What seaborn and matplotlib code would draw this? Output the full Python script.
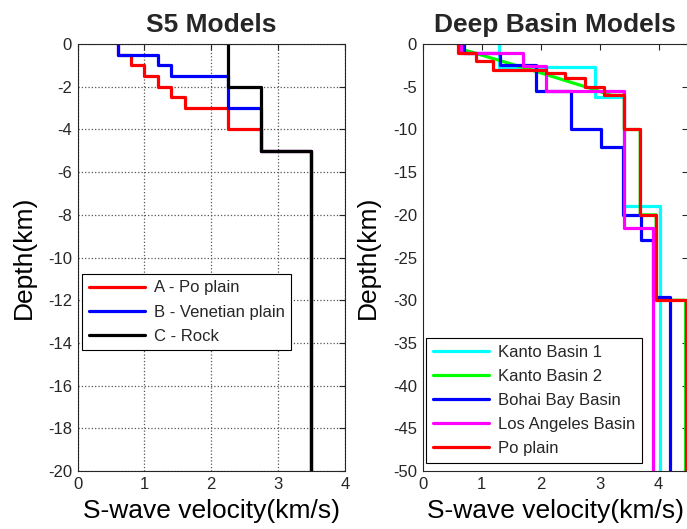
import matplotlib
matplotlib.use("Agg")
import matplotlib.pyplot as plt
import seaborn as sns
import pandas as pd

# ---------------- data (layer velocity km/s, layer bottom depth km) ----------------
s5_names = ["A - Po plain", "B - Venetian plain", "C - Rock"]
s5_colors = ["#ff0000", "#0000ff", "#000000"]
s5_A_vel = [0.6, 0.8, 1.0, 1.2, 1.4, 1.6, 2.25, 2.75, 3.5]
s5_A_bot = [0.5, 1.0, 1.5, 2.0, 2.5, 3.0, 4.0, 5.0, 20.0]
s5_B_vel = [0.6, 1.2, 1.4, 2.25, 2.75, 3.5]
s5_B_bot = [0.5, 1.0, 1.5, 3.0, 5.0, 20.0]
s5_C_vel = [2.25, 2.75, 3.5]
s5_C_bot = [2.0, 5.0, 20.0]

deep_names = ["Kanto Basin 1", "Kanto Basin 2", "Bohai Bay Basin",
              "Los Angeles Basin", "Po plain"]
deep_colors = ["#00ffff", "#00ff00", "#0000ff", "#ff00ff", "#ff0000"]
kanto1_vel = [1.3, 2.92, 3.41, 4.03]
kanto1_bot = [2.65, 6.2, 19.0, 50.0]
# Kanto 2: gradient profile read as points (velocity, depth)
kanto2_v = [0.6, 0.7, 2.0, 2.85, 3.2, 3.42, 3.42, 3.69, 3.69, 3.96, 3.96, 4.46, 4.46]
kanto2_d = [0.0, 0.66, 3.36, 5.19, 6.0, 6.0, 10.0, 10.0, 20.0, 20.0, 30.0, 30.0, 50.0]
bohai_vel = [0.7, 1.32, 1.92, 2.52, 3.03, 3.4, 3.7, 3.9, 4.2]
bohai_bot = [1.0, 2.5, 5.5, 10.0, 12.0, 20.0, 23.0, 29.6, 50.0]
la_vel = [0.65, 1.7, 2.1, 3.41, 3.9]
la_bot = [1.0, 2.6, 5.5, 21.5, 50.0]
po_vel = [0.6, 0.9, 1.2, 2.1, 2.42, 2.76, 3.07, 3.42, 3.69, 3.96, 4.46]
po_bot = [1.0, 2.0, 3.0, 3.4, 4.0, 5.0, 6.0, 10.0, 20.0, 30.0, 50.0]

s5_xticks = [0, 1, 2, 3, 4]
s5_yticks = [0, -2, -4, -6, -8, -10, -12, -14, -16, -18, -20]
deep_xticks = [0, 1, 2, 3, 4]
deep_yticks = [0, -5, -10, -15, -20, -25, -30, -35, -40, -45, -50]


def stairs(name, vel, bot):
    rows = []
    top = 0.0
    for v, b in zip(vel, bot):
        rows.append((name, v, -top))
        rows.append((name, v, -b))
        top = b
    return rows


def points(name, vs, ds):
    return [(name, v, -d) for v, d in zip(vs, ds)]


rows1 = (stairs(s5_names[0], s5_A_vel, s5_A_bot)
         + stairs(s5_names[1], s5_B_vel, s5_B_bot)
         + stairs(s5_names[2], s5_C_vel, s5_C_bot))
df1 = pd.DataFrame(rows1, columns=["model", "v", "depth"])

rows2 = (stairs(deep_names[0], kanto1_vel, kanto1_bot)
         + points(deep_names[1], kanto2_v, kanto2_d)
         + stairs(deep_names[2], bohai_vel, bohai_bot)
         + stairs(deep_names[3], la_vel, la_bot)
         + stairs(deep_names[4], po_vel, po_bot))
df2 = pd.DataFrame(rows2, columns=["model", "v", "depth"])

# ---------------- figure ----------------
sns.set_theme(style="white")
plt.rcParams["font.family"] = ["Liberation Sans", "DejaVu Sans"]

fig = plt.figure(figsize=(6.87, 5.29), dpi=100)
ax1 = fig.add_axes([0.113, 0.1096, 0.389, 0.807])
ax2 = fig.add_axes([0.615, 0.1096, 0.3865, 0.807])

lw = 2.3
sns.lineplot(data=df1, x="v", y="depth", hue="model", hue_order=s5_names,
             palette=s5_colors, sort=False, estimator=None, lw=lw,
             legend=False, ax=ax1)
sns.lineplot(data=df2, x="v", y="depth", hue="model", hue_order=deep_names,
             palette=deep_colors, sort=False, estimator=None, lw=lw,
             legend=False, ax=ax2)

tick_color = "#262626"
for ax, xt, yt, xl, yl, title in [
        (ax1, s5_xticks, s5_yticks, (0, 4), (-20, 0), "S5 Models"),
        (ax2, deep_xticks, deep_yticks, (0, 4.5), (-50, 0), "Deep Basin Models")]:
    ax.set_xlim(*xl)
    ax.set_ylim(*yl)
    ax.set_xticks(xt)
    ax.set_yticks(yt)
    ax.set_xticklabels([str(t) for t in xt])
    ax.set_yticklabels([str(t) for t in yt])
    ax.tick_params(direction="in", length=4, width=0.8, top=True, right=True,
                   labelsize=12, colors=tick_color, labelcolor=tick_color,
                   pad=4)
    for s in ax.spines.values():
        s.set_color(tick_color)
        s.set_linewidth(0.8)
    ax.set_xlabel("S-wave velocity(km/s)", fontsize=19, color="black",
                  labelpad=5)
    ax.set_ylabel("Depth(km)", fontsize=19, color="black", labelpad=9)
    ax.set_title(title, fontsize=19, fontweight="bold", pad=9)

ax1.grid(True, linestyle=":", color="#555555", linewidth=0.9)
ax1.set_axisbelow(True)
ax2.grid(False)

common = dict(fontsize=12, frameon=True, fancybox=False, edgecolor="black",
              framealpha=1, handlelength=3.4, handletextpad=0.5,
              labelspacing=0.55, borderpad=0.4, borderaxespad=0)
leg1 = ax1.legend(ax1.get_lines(), s5_names, loc="upper left",
                  bbox_to_anchor=(0.016, 0.462), **common)
leg1.get_frame().set_linewidth(0.8)
leg2 = ax2.legend(ax2.get_lines(), deep_names, loc="lower left",
                  bbox_to_anchor=(0.013, 0.019), **common)
leg2.get_frame().set_linewidth(0.8)

fig.savefig("out.png", dpi=100)
